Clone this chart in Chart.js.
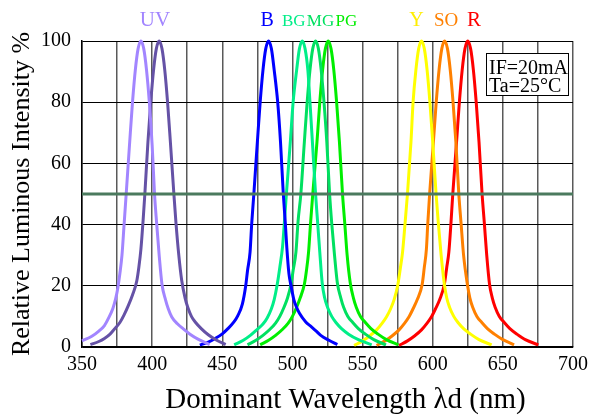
<!DOCTYPE html>
<html>
<head>
<meta charset="utf-8">
<script src="https://cdn.jsdelivr.net/npm/chart.js@4.4.0/dist/chart.umd.min.js"></script>
<style>body{margin:0;background:#fff}</style>
</head>
<body>
<canvas id="myChart" width="590" height="417"></canvas>
<script>
// spectra: [wavelength nm, relative intensity %]
const uvA = [[350,2.0],[357,3.5],[362,5.2],[366,7],[369,9.5],[372,12.6],[374,15.8],[375.5,19.2],[377,24],[378.5,30],[380,40],[381.5,50],[384,67],[386,80],[388,90.5],[390,97.5],[392,100],
  [394,97.5],[396,90.5],[398,80],[400,66],[401.7,50],[403.2,40.5],[405,30],[407,20.5],[409.5,15.5],[411.5,12.5],[414,9.8],[418,7.6],[422,6],[427,4.2],[433,2.5],[441,0.8]];
const uvB = [[356,0.8],[362,1.8],[366,2.8],[370,4.2],[373,5.8],[377,8],[380,10.5],[383,13.5],[386,17],[389,21.5],[390.5,26],[392,32],[393.5,41],[394.8,50],[397,67],[399,80],[401,90.5],[403,97.5],[405,100],
  [407,97.5],[409,90.5],[411,80],[413,67],[415.5,50],[417,40.5],[419,30],[421,22],[423.5,16],[425.5,12.8],[428,10],[431,8],[435,6],[440,4],[446,2.2],[452.4,0.8]];
const blue = [[434,0.6],[440,1.6],[445,2.8],[450,4.3],[454,6],[458.3,8.2],[461,10.2],[464.3,14],[466.7,20],[468,25],[469.8,31],[471,40.5],[472.5,50],[475,67],[477,80],[479,90.5],[481,97.5],[483,100],
  [485,97.5],[487,90.5],[489.5,80],[491.5,67],[493.5,50],[495,40],[496,32.5],[497.5,24],[499,20],[501,15.5],[502.5,13.5],[505,11],[509.5,8.2],[513,6.8],[517,5.2],[520.2,3.8],[526,2.2],[532,0.8]];
const bg = [[458.5,0.7],[465,2.2],[470,3.8],[475,5.8],[479,7.5],[482,9.5],[485,12.5],[487,15.5],[489,20],[491,26],[493,33],[494.3,41],[495.7,50],[498.5,67],[500.5,80],[503,90.5],[505,97.5],[507,100],
  [509,97.5],[511,90.5],[512.5,80],[514.5,65],[516.5,50],[518,40.5],[519.5,31],[521.2,21],[523,16],[525,13],[528,10],[531,8],[535,6],[540,4.2],[547,2.4],[556.5,0.7]];
const mg = [[468,0.7],[474,2.2],[479,3.8],[484,5.8],[488,7.8],[491,10],[494,13],[496.5,16],[499,20.5],[500.5,25],[502.5,31],[504,41],[506,50],[508.5,67],[510.5,80],[512.5,90.5],[514.5,97.5],[516.5,100],
  [518.5,97.5],[520.5,90.5],[522.5,80],[524.5,67],[526.5,50],[528,40.5],[530,30],[532,21],[534.5,16],[536.5,13],[539.5,10],[543,8],[547,6],[552,4.2],[558,2.4],[566.7,0.7]];
const pg = [[477,0.7],[483,2.2],[488,3.8],[493,5.8],[497,7.8],[500,10],[503,13],[505.5,16],[508.5,20.5],[510,25],[511.5,31],[513,41],[514.5,50],[517.5,67],[519.5,80],[521.5,90.5],[523.5,97.5],[525.5,100],
  [527.5,97.5],[529.5,90.5],[531.5,80],[533.5,67],[535.7,50],[537.3,40.5],[539,30],[541.2,21],[543.5,16],[545.5,13],[548.5,10],[552,8],[556,6],[561,4.2],[567,2.4],[575.5,0.7]];
const yel = [[544,0.5],[550,2],[555,3.6],[560,5.6],[564,7.8],[567,9.8],[570,12.5],[572.5,15.5],[575,20],[577,26],[578.5,31],[580.3,40.5],[582,50],[584.5,67],[586,80],[588,90.5],[590,97.5],[592,100],
  [594,97.5],[596,90.5],[598,80],[600,67],[602.4,50],[604,40.5],[606,30],[608.3,20.5],[610,16],[612,13],[615,10],[618,8],[622,6],[627,4.2],[633,2.4],[642,0.7]];
const so = [[560,0.5],[566,2],[571,3.6],[576,5.6],[580,7.8],[583,9.8],[586,12.5],[589,15.5],[592.5,20.5],[594,26],[595.5,32],[596.5,40.5],[597.8,50],[600.5,67],[602.5,80],[604.5,90.5],[606.5,97.5],[608.5,100],
  [610.5,97.5],[612.5,90.5],[614.5,80],[616.5,67],[618.6,50],[620.2,40.5],[622,30],[624.7,20.5],[626.5,16],[628.5,13],[631.5,10],[635,8],[639,6],[644,4.2],[650,2.4],[658,0.7]];
const red = [[576,0.5],[582,2],[587,3.6],[592,5.6],[596,7.8],[599,9.8],[602,12.5],[605,15.5],[608.3,20.5],[610,26],[611.5,31],[613,40.5],[614.3,50],[617,67],[619,80],[621,90.5],[623,97.5],[625,100],
  [627,97.5],[629,90.5],[631,80],[633,67],[635.2,50],[636.8,40.5],[638.5,30],[640.5,20.5],[642.5,16],[644.5,13],[647.5,10],[651,8],[655,6],[660,4.2],[666,2.4],[675.3,0.7]];
const halfLine = [[350,50],[700,50]];

const curves = [uvA, uvB, blue, bg, mg, pg, yel, so, red];
const curveColors = ['#a285ff','#6552a6','#0000ff','#00ee88','#00e060','#00ee00','#ffff00','#ff8000','#ff0000'];

// names printed above the peaks, with the wavelength they sit over
const peakNames = ['UV','B','BG','MG','PG','Y','SO','R'];
const peakNameNm = [402, 482, 501, 520, 538.5, 588.5, 609.5, 629.5];
const peakNameColors = ['#a285ff','#0000ff','#00ee88','#00e060','#00ee00','#ffee00','#ff8000','#ff0000'];
const peakNameSizes = [21, 20, 17, 17, 17, 20, 19, 21];
const noteLines = ['IF=20mA', 'Ta=25\u00B0C'];
const xTitle = 'Dominant Wavelength \u03BBd (nm)';

const serif = "'Liberation Serif', 'Times New Roman', serif";

const datasets = [{
  data: halfLine.map(p => ({x: p[0], y: p[1]})),
  borderColor: '#4b7a5e', borderWidth: 3, pointRadius: 0, showLine: true
}];
curves.forEach((c, i) => {
  datasets.push({
    data: c.map(p => ({x: p[0], y: p[1]})),
    borderColor: curveColors[i], borderWidth: 3, pointRadius: 0,
    showLine: true, cubicInterpolationMode: 'monotone', clip: false
  });
});

const labelsPlugin = {
  id: 'labels',
  afterDraw(chart) {
    const ctx = chart.ctx, area = chart.chartArea, xs = chart.scales.x;
    ctx.save();
    ctx.textAlign = 'center';
    ctx.textBaseline = 'alphabetic';
    peakNames.forEach((n, i) => {
      ctx.font = peakNameSizes[i] + 'px ' + serif;
      ctx.fillStyle = peakNameColors[i];
      ctx.fillText(n, xs.getPixelForValue(peakNameNm[i]), area.top - 15);
    });
    // x axis title, sits a little right of centre in the original
    ctx.fillStyle = '#000';
    ctx.font = '29px ' + serif;
    ctx.fillText(xTitle, (area.left + area.right) / 2 + 18, area.bottom + 61);
    // condition box
    const bx = area.right - 87, by = area.top + 12;
    ctx.fillStyle = '#fff';
    ctx.fillRect(bx, by, 82, 42);
    ctx.strokeStyle = '#000';
    ctx.lineWidth = 1;
    ctx.strokeRect(bx + 0.5, by + 0.5, 82, 42);
    ctx.fillStyle = '#000';
    ctx.font = '20px ' + serif;
    ctx.textAlign = 'left';
    ctx.fillText(noteLines[0], bx + 3, by + 21);
    ctx.fillText(noteLines[1], bx + 3, by + 39);
    ctx.restore();
  }
};

new Chart(document.getElementById('myChart'), {
  type: 'scatter',
  data: { datasets: datasets },
  options: {
    responsive: false,
    animation: false,
    layout: { padding: { top: 41, right: 17, left: 0, bottom: 0 } },
    plugins: { legend: { display: false }, tooltip: { enabled: false } },
    scales: {
      x: {
        type: 'linear', min: 350, max: 700,
        afterFit: s => { s.height = 70; s.paddingLeft = 0; s.paddingRight = 0; },
        ticks: {
          stepSize: 25, autoSkip: false, maxRotation: 0, padding: 6,
          color: '#000', font: { family: serif, size: 20 },
          callback: v => (v % 50 === 0 ? v : '')
        },
        grid: { color: 'rgba(0,0,0,0.65)', lineWidth: 1.5, drawTicks: false },
        border: { color: '#000', width: 1.5 }
      },
      y: {
        min: 0, max: 100,
        afterFit: s => { s.width = 82; },
        ticks: { stepSize: 20, padding: 11, color: '#000', font: { family: serif, size: 20 } },
        grid: { color: '#000', lineWidth: 1, drawTicks: false },
        border: { color: '#000', width: 1.5 },
        title: { display: true, text: 'Relative Luminous Intensity %', color: '#000',
          font: { family: serif, size: 26 }, padding: { top: 7, bottom: 0 } }
      }
    }
  },
  plugins: [labelsPlugin]
});
</script>
</body>
</html>
